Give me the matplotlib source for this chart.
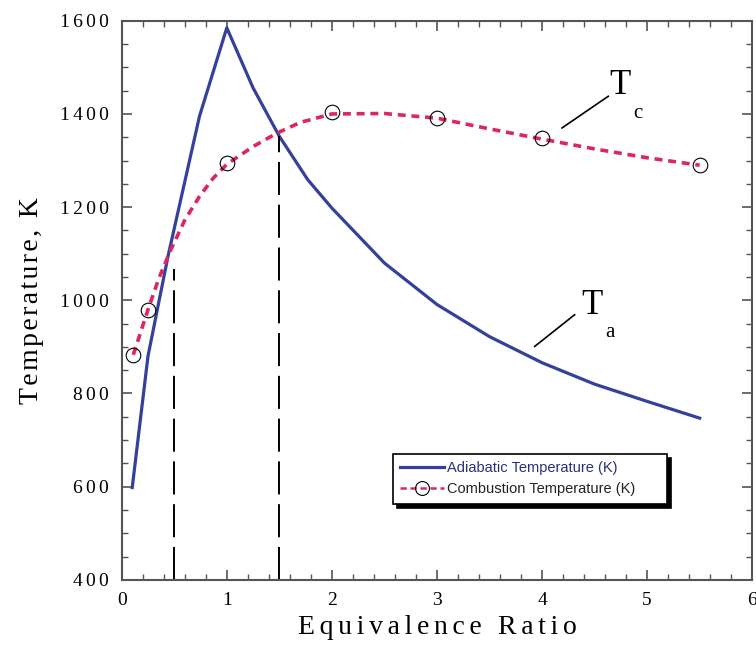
import matplotlib.pyplot as plt
from matplotlib.lines import Line2D
from matplotlib.ticker import MultipleLocator, FuncFormatter

plt.rcParams['font.family'] = ['Liberation Serif', 'DejaVu Serif']

# Adiabatic temperature
adi_x = [0.1, 0.25, 0.44, 0.74, 1.0, 1.25, 1.5, 1.77, 2.0, 2.5, 3.0, 3.5, 4.0, 4.5, 5.0, 5.5]
adi_y = [598, 880, 1094, 1395, 1585, 1456, 1352, 1259, 1198, 1080, 991, 922, 866, 820, 783, 747]

# Combustion temperature, measured points
comb_x = [0.11, 0.25, 1.0, 2.0, 3.0, 4.0, 5.5]
comb_y = [883, 980, 1294, 1404, 1392, 1348, 1290]

# smooth dashed fit through the combustion points (traced)
fit_x = [0.11, 0.25, 0.35, 0.46, 0.6, 0.74, 0.87, 1.0, 1.25, 1.47, 1.7, 2.0, 2.5, 3.0, 3.5, 4.0, 4.5, 5.0, 5.5]
fit_y = [883, 980, 1045, 1105, 1172, 1223, 1262, 1292, 1330, 1358, 1382, 1400, 1401, 1391, 1368, 1346, 1325, 1306, 1290]

# vertical guide lines
guide_x = [0.5, 1.5]
guide_top = [1068, 1352]

blue = '#34409a'
red = '#dc2566'


def spaced(s, sp='\u2006'):
    # the original figure uses a slightly wide letter spacing
    return sp.join(s)


fig = plt.figure(figsize=(7.56, 6.5), dpi=100)
ax = fig.add_axes([0.161, 0.108, 0.834, 0.860])

ax.plot(adi_x, adi_y, color=blue, lw=2.3, solid_joinstyle='round')
ax.plot(fit_x, fit_y, color=red, lw=2.6, linestyle=(0, (2.2, 1.6)))
ax.plot(comb_x, comb_y, linestyle='none', marker='o', ms=10.5,
        mfc='none', mec='black', mew=0.8)

for gx, gt in zip(guide_x, guide_top):
    ax.plot([gx, gx], [400, gt], color='black', lw=1.4, linestyle=(0, (17, 5)))

# curve labels
ax.plot([4.19, 4.63], [1370, 1438], color='black', lw=1.2)
ax.text(4.74, 1462, 'T', fontsize=25, ha='center', va='center')
ax.text(4.91, 1400, 'c', fontsize=15, ha='center', va='center')
ax.plot([3.93, 4.31], [901, 969], color='black', lw=1.2)
ax.text(4.47, 988, 'T', fontsize=25, ha='center', va='center')
ax.text(4.65, 930, 'a', fontsize=15, ha='center', va='center')

ax.set_xlim(0, 6)
ax.set_ylim(400, 1600)
ax.xaxis.set_major_locator(MultipleLocator(1))
ax.xaxis.set_minor_locator(MultipleLocator(0.2))
ax.yaxis.set_major_locator(MultipleLocator(200))
ax.yaxis.set_minor_locator(MultipleLocator(50))
ax.yaxis.set_major_formatter(FuncFormatter(lambda v, p: spaced('%d' % v)))
ax.tick_params(which='both', direction='in', top=True, right=True,
               color='#555555', labelsize=14)
ax.tick_params(axis='y', pad=9)
ax.tick_params(axis='x', pad=9)
ax.tick_params(which='major', length=7, width=1.2)
ax.tick_params(which='minor', length=4, width=1.0)
for sp in ax.spines.values():
    sp.set_color('#555555')
    sp.set_linewidth(1.5)

ax.set_xlabel(spaced('Equivalence Ratio'), fontsize=20, labelpad=4)
ax.set_ylabel(spaced('Temperature, K', '\u200a'), fontsize=20, labelpad=12)

handles = [Line2D([], [], color=blue, lw=2.3),
           Line2D([], [], color=red, lw=1.8, linestyle=(0, (2.5, 1.5)),
                  marker='o', ms=10, mfc='none', mec='black', mew=0.8)]
leg = ax.legend(handles, ['Adiabatic Temperature (K)', 'Combustion Temperature (K)'],
                loc='lower left', bbox_to_anchor=(0.43, 0.136, 0.435, 0.091),
                mode='expand', fancybox=False, shadow={'color': 'black', 'alpha': 1, 'ox': 3, 'oy': -3},
                edgecolor='black', framealpha=1, handlelength=3.0, handletextpad=0.2,
                borderpad=0.5, labelspacing=0.5, borderaxespad=0,
                prop={'family': 'Liberation Sans', 'size': 10.5})
leg.get_frame().set_linewidth(1.2)
leg.get_texts()[0].set_color('#2a2f7a')
leg.get_texts()[1].set_color('#222222')

fig.savefig('out.png', dpi=100)
